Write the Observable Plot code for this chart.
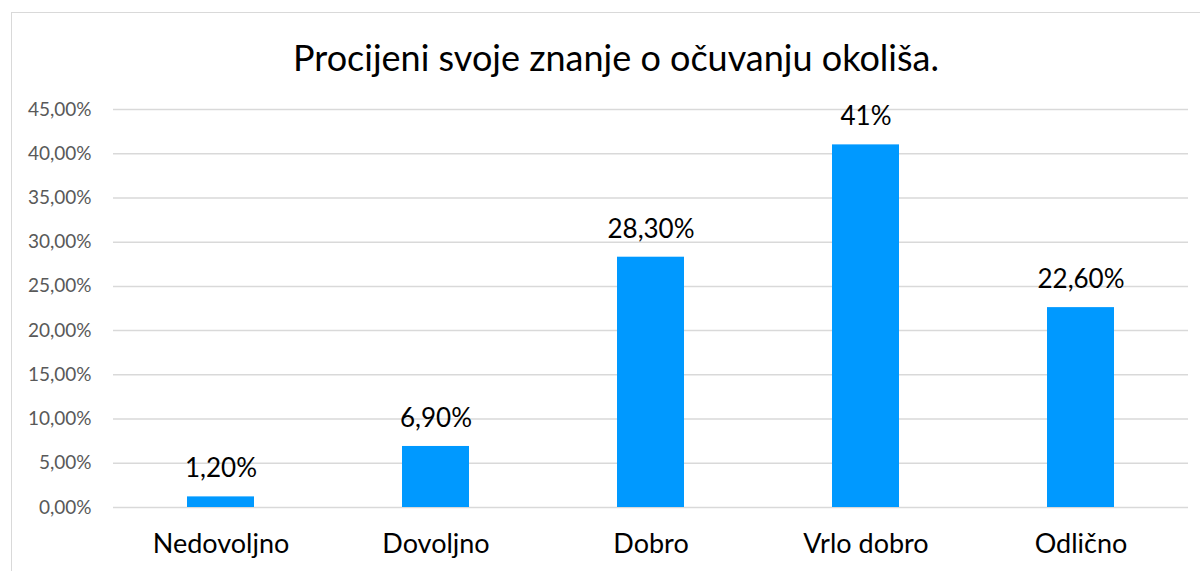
<!DOCTYPE html>
<html>
<head>
<meta charset="utf-8">
<script src="https://cdn.jsdelivr.net/npm/d3@7"></script>
<script src="https://cdn.jsdelivr.net/npm/@observablehq/plot@0.6"></script>
<style>
  html, body { margin: 0; padding: 0; background: #fff; }
  #wrap { position: relative; width: 1200px; height: 571px; overflow: hidden; font-family: Lato, "Noto Sans", sans-serif; }
  #frame { position: absolute; left: 11px; top: 12px; width: 1300px; height: 700px; border: 1px solid #d9d9d9; box-sizing: border-box; }
  #title { position: absolute; left: 0; width: 1232px; top: 36px; text-align: center; font-size: 36px; color: #000; line-height: 42px; }
  #chart { position: absolute; left: 0; top: 0; }
</style>
</head>
<body>
<div id="wrap">
  <div id="frame"></div>
  <div id="chart"></div>
  <div id="title">Procijeni svoje znanje o očuvanju okoliša.</div>
</div>
<script>
const categories = ["Nedovoljno", "Dovoljno", "Dobro", "Vrlo dobro", "Odlično"];
const values = [0.012, 0.069, 0.283, 0.41, 0.226];
const valueLabels = ["1,20%", "6,90%", "28,30%", "41%", "22,60%"];
const yTicks = [0, 0.05, 0.10, 0.15, 0.20, 0.25, 0.30, 0.35, 0.40, 0.45];

const data = categories.map((c, i) => ({category: c, value: values[i], label: valueLabels[i]}));
const fmt = v => (v * 100).toFixed(2).replace(".", ",") + "%";

const chart = Plot.plot({
  width: 1200,
  height: 571,
  marginLeft: 113,
  marginRight: 12,
  marginTop: 109,
  marginBottom: 64,
  style: {fontFamily: "Lato, 'Noto Sans', sans-serif", background: "transparent", overflow: "visible"},
  x: {domain: categories, paddingInner: 0.69, paddingOuter: 0.345, label: null},
  y: {domain: [0, 0.45], label: null},
  marks: [
    Plot.gridY(yTicks, {stroke: "#d9d9d9", strokeOpacity: 1, strokeWidth: 1.5}),
    Plot.barY(data, {x: "category", y: "value", fill: "#0099ff"}),
    Plot.text(data, {x: "category", y: "value", text: "label", dy: -28, fontSize: 26, fill: "#000", lineAnchor: "middle"}),
    Plot.axisY(yTicks, {tickFormat: fmt, tickSize: 0, tickPadding: 22, fontSize: 19, color: "#595959", label: null}),
    Plot.axisX({tickSize: 0, tickPadding: 26, fontSize: 27, color: "#000", label: null})
  ]
});
document.getElementById("chart").appendChild(chart);
</script>
</body>
</html>
